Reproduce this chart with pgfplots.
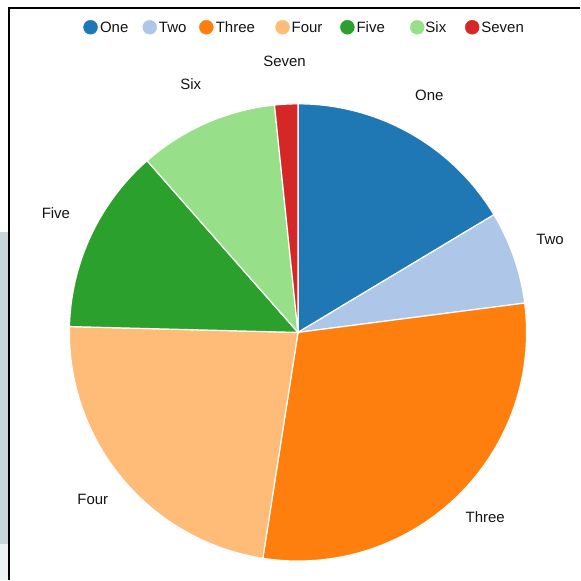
\documentclass[border=0pt]{standalone}
\usepackage{pgfplots}
\usepackage{pgfplotstable}
\pgfplotsset{compat=1.18}
\usepackage{fontspec}
\setmainfont{Liberation Sans}
\definecolor{pie0}{HTML}{1F77B4}
\definecolor{pie1}{HTML}{AEC7E8}
\definecolor{pie2}{HTML}{FF7F0E}
\definecolor{pie3}{HTML}{FFBB78}
\definecolor{pie4}{HTML}{2CA02C}
\definecolor{pie5}{HTML}{98DF8A}
\definecolor{pie6}{HTML}{D62728}
\definecolor{sidegrey}{RGB}{200,214,220}
\definecolor{sidelight}{RGB}{236,243,245}
\definecolor{txt}{RGB}{20,20,20}

\tikzset{lab/.style={font=\fontsize{15}{18}\selectfont, inner sep=0pt, text=txt}}

\pgfplotstableread{
label value
One 5
Two 2
Three 9
Four 7
Five 4
Six 3
Seven 0.5
}\piedata

\def\pietotal{0}
\pgfplotstableforeachcolumnelement{value}\of\piedata\as\v{%
  \pgfmathparse{\pietotal+\v}\xdef\pietotal{\pgfmathresult}}

\def\cx{298.5}
\def\cy{248}
\def\R{229}

\begin{document}
\begin{tikzpicture}
\begin{axis}[
  hide axis, x=1pt, y=1pt,
  xmin=0, xmax=581, ymin=0, ymax=581,
  clip=false,
]
\path (axis cs:0,0) rectangle (axis cs:581,581);
% side artefact
\fill[sidegrey] (axis cs:0,36) rectangle (axis cs:8.3,349);
\fill[sidelight] (axis cs:0,0) rectangle (axis cs:8.3,36);
% frame
\draw[line width=2pt, black] (axis cs:9.3,0) -- (axis cs:9.3,572.8) -- (axis cs:581,572.8);

\xdef\cum{0}
\pgfplotsinvokeforeach{0,...,6}{%
  \pgfplotstablegetelem{#1}{value}\of\piedata
  \pgfmathsetmacro\va{90-360*\cum/\pietotal}
  \pgfmathparse{\cum+\pgfplotsretval}\xdef\cum{\pgfmathresult}
  \pgfmathsetmacro\vb{90-360*\cum/\pietotal}
  \edef\tmp{\noexpand\addplot[fill=pie#1, draw=white, line width=1.2pt, mark=none, domain=\vb:\va, samples=80] ({\cx+\R*cos(x)},{\cy+\R*sin(x)}) -- (axis cs:\cx,\cy) -- cycle;}
  \tmp
}

% slice labels
\node[lab] at (axis cs:430,485.5) {One};
\node[lab] at (axis cs:551,341.5) {Two};
\node[lab] at (axis cs:486,62.5) {Three};
\node[lab] at (axis cs:93,81) {Four};
\node[lab] at (axis cs:56,367) {Five};
\node[lab] at (axis cs:191,497) {Six};
\node[lab] at (axis cs:285,520) {Seven};

% legend
\addplot[only marks, mark=*, mark size=7pt, color=pie0] coordinates {(90.7,553.7)};
\addplot[only marks, mark=*, mark size=7pt, color=pie1] coordinates {(150,553.7)};
\addplot[only marks, mark=*, mark size=7pt, color=pie2] coordinates {(206.7,553.7)};
\addplot[only marks, mark=*, mark size=7pt, color=pie3] coordinates {(283,553.7)};
\addplot[only marks, mark=*, mark size=7pt, color=pie4] coordinates {(348,553.7)};
\addplot[only marks, mark=*, mark size=7pt, color=pie5] coordinates {(418,553.7)};
\addplot[only marks, mark=*, mark size=7pt, color=pie6] coordinates {(473,553.7)};
\node[lab, anchor=west] at (axis cs:100,553.7) {One};
\node[lab, anchor=west] at (axis cs:159,553.7) {Two};
\node[lab, anchor=west] at (axis cs:216,553.7) {Three};
\node[lab, anchor=west] at (axis cs:292,553.7) {Four};
\node[lab, anchor=west] at (axis cs:357,553.7) {Five};
\node[lab, anchor=west] at (axis cs:426,553.7) {Six};
\node[lab, anchor=west] at (axis cs:482,553.7) {Seven};
\end{axis}
\end{tikzpicture}
\end{document}
